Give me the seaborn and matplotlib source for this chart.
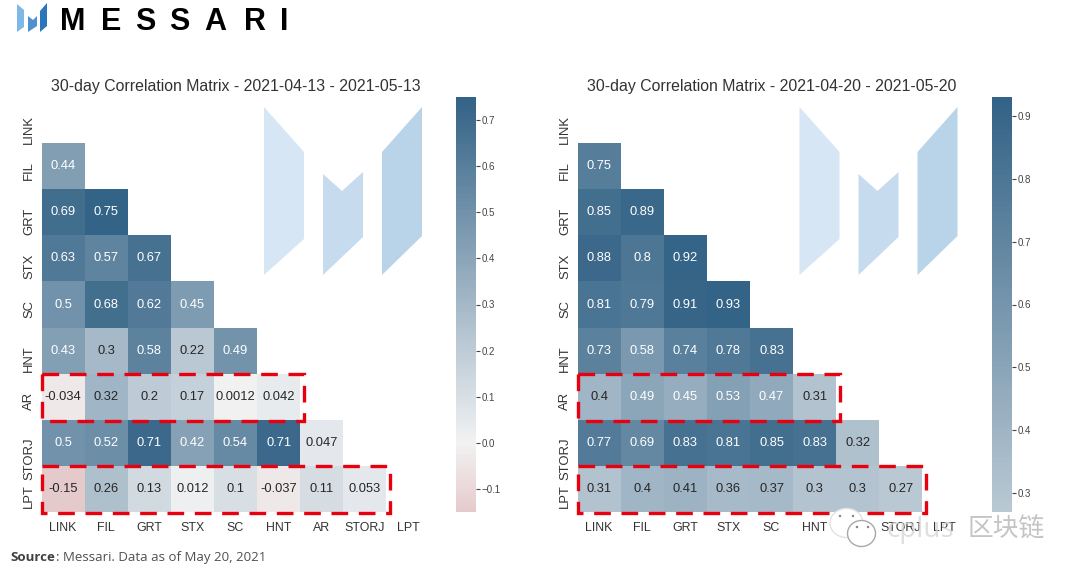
import numpy as np
import matplotlib
matplotlib.use("Agg")
import matplotlib.pyplot as plt
from matplotlib.patches import Polygon, Rectangle, Ellipse
from matplotlib.transforms import ScaledTranslation
import seaborn as sns

tokens = ["LINK", "FIL", "GRT", "STX", "SC", "HNT", "AR", "STORJ", "LPT"]

left_fil = [0.44]
left_grt = [0.69, 0.75]
left_stx = [0.63, 0.57, 0.67]
left_sc = [0.5, 0.68, 0.62, 0.45]
left_hnt = [0.43, 0.3, 0.58, 0.22, 0.49]
left_ar = [-0.034, 0.32, 0.2, 0.17, 0.0012, 0.042]
left_storj = [0.5, 0.52, 0.71, 0.42, 0.54, 0.71, 0.047]
left_lpt = [-0.15, 0.26, 0.13, 0.012, 0.1, -0.037, 0.11, 0.053]

right_fil = [0.75]
right_grt = [0.85, 0.89]
right_stx = [0.88, 0.8, 0.92]
right_sc = [0.81, 0.79, 0.91, 0.93]
right_hnt = [0.73, 0.58, 0.74, 0.78, 0.83]
right_ar = [0.4, 0.49, 0.45, 0.53, 0.47, 0.31]
right_storj = [0.77, 0.69, 0.83, 0.81, 0.85, 0.83, 0.32]
right_lpt = [0.31, 0.4, 0.41, 0.36, 0.37, 0.3, 0.3, 0.27]

left_title = "30-day Correlation Matrix - 2021-04-13 - 2021-05-13"
right_title = "30-day Correlation Matrix - 2021-04-20 - 2021-05-20"
left_ticks = [-0.1, 0.0, 0.1, 0.2, 0.3, 0.4, 0.5, 0.6, 0.7]
right_ticks = [0.3, 0.4, 0.5, 0.6, 0.7, 0.8, 0.9]

W, H = 1080, 579
plt.rcParams["font.family"] = ["Liberation Sans", "DejaVu Sans"]
fig = plt.figure(figsize=(W / 100, H / 100), dpi=100, facecolor="white")


def box(x0, y0, x1, y1):
    return [x0 / W, 1 - y1 / H, (x1 - x0) / W, (y1 - y0) / H]


def matrix(rows):
    n = len(rows) + 1
    m = np.full((n, n), np.nan)
    for i, r in enumerate(rows):
        m[i + 1, : len(r)] = r
    return m


# page layer in pixel coordinates
bg = fig.add_axes([0, 0, 1, 1], zorder=0)
bg.set_xlim(0, W)
bg.set_ylim(H, 0)
bg.axis("off")

for dx in (0, 535.5):
    bg.add_patch(Polygon([(264, 107), (304, 152), (304, 239), (264, 275)], fc="#d6e6f4", ec="none"))
    bg.add_patch(Polygon([(323, 174), (342, 191), (363, 172), (363, 237), (323, 275)], fc="#c6dbee", ec="none"))
    bg.add_patch(Polygon([(382, 152), (422, 107), (422, 236), (382, 275)], fc="#b9d4e9", ec="none"))
    for p in bg.patches[-3:]:
        p.set_xy(p.get_xy() + np.array([dx, 0]))

# Messari logo
bg.add_patch(Polygon([(17, 4), (24, 10), (24, 27), (17, 32)], fc="#7db8e6", ec="none"))
bg.add_patch(Polygon([(28, 16), (33, 20), (37, 16), (37, 26), (28, 32)], fc="#4f90cf", ec="none"))
bg.add_patch(Polygon([(40, 11), (47, 3), (47, 26), (40, 32)], fc="#2a75bb", ec="none"))
for ch, cx in zip("MESSARI", [72.5, 111, 145.5, 179, 215, 255, 284.5]):
    bg.text(cx, 30, ch, ha="center", va="baseline", fontsize=22, fontweight="bold",
            color="black", family=["Liberation Sans"])

# source line
bg.text(10, 557.5, "Source", ha="left", va="center", fontsize=9.5, fontweight="bold",
        color="#404040", family=["Open Sans"])
bg.text(55.5, 557.5, ": Messari. Data as of May 20, 2021", ha="left", va="center", fontsize=9.5,
        color="#505050", family=["Open Sans"])

cmap = sns.diverging_palette(10, 240, s=75, l=40, as_cmap=True)
panels = [
    (matrix([left_fil, left_grt, left_stx, left_sc, left_hnt, left_ar, left_storj, left_lpt]),
     left_title, left_ticks, 41.5, 429.5, 456, 475.5, 236),
    (matrix([right_fil, right_grt, right_stx, right_sc, right_hnt, right_ar, right_storj, right_lpt]),
     right_title, right_ticks, 577.5, 965.5, 992, 1011.5, 772),
]

shift_up = ScaledTranslation(0, 5 / 100, fig.dpi_scale_trans)

for m, title, ticks, x0, x1, c0, c1, tc in panels:
    ax = fig.add_axes(box(x0, 97, x1, 512), zorder=2)
    cax = fig.add_axes(box(c0, 97, c1, 512), zorder=2)
    sns.heatmap(m, ax=ax, cbar_ax=cax, cmap=cmap, center=0, annot=True, fmt=".2g",
                annot_kws={"fontsize": 9.3}, xticklabels=tokens, yticklabels=tokens,
                cbar_kws={"ticks": ticks})
    ax.patch.set_alpha(0)
    ax.tick_params(axis="x", length=0, labelsize=8.9, labelcolor="#333333", pad=7)
    ax.tick_params(axis="y", length=0, labelsize=9.4, labelcolor="#333333", pad=4.5)
    ax.set_yticklabels(tokens, rotation=90, va="top")
    for lab in ax.get_yticklabels():
        lab.set_transform(lab.get_transform() + shift_up)
    ax.set_xticklabels(tokens, rotation=0)
    cax.tick_params(labelsize=7, length=3.2, width=0.8, color="#444444", labelcolor="#444444", pad=1.2)
    cax.set_yticklabels([f"{t:.1f}".replace("-", "\u2212") for t in ticks])
    bg.text(tc, 87, title, ha="center", va="center", fontsize=11.4, color="#333333")
    ax.add_patch(Rectangle((0, 6), 6.08, 1.02, fill=False, ec="#e8000f", lw=2.4,
                           ls=(0, (5, 3.2)), clip_on=False, zorder=5))
    ax.add_patch(Rectangle((0, 8), 8.08, 1.02, fill=False, ec="#e8000f", lw=2.4,
                           ls=(0, (5, 3.2)), clip_on=False, zorder=5))

# WeChat watermark on top
fg = fig.add_axes([0, 0, 1, 1], zorder=5)
fg.set_xlim(0, W)
fg.set_ylim(H, 0)
fg.axis("off")
fg.add_patch(Ellipse((846.5, 523), 33, 29, fc="white", ec="#e2e2e2", lw=1))
fg.add_patch(Ellipse((861.5, 533.5), 28, 26, fc="white", ec="#a8a8a8", lw=1))
for ex, ey in [(840, 516), (853, 516), (857, 527), (868, 527)]:
    fg.add_patch(Ellipse((ex, ey), 2.5, 2.5, fc="#888888", ec="none"))
fg.text(886, 530, "cplus", ha="left", va="center", fontsize=20, color="#d4d4d4", alpha=0.75,
        family=["Open Sans"])
fg.text(968, 530, "区块链", ha="left", va="center", fontsize=18.5, color="#c4c4c4",
        family=["Noto Sans CJK SC"])

fig.savefig("out.png", dpi=100, facecolor="white")
